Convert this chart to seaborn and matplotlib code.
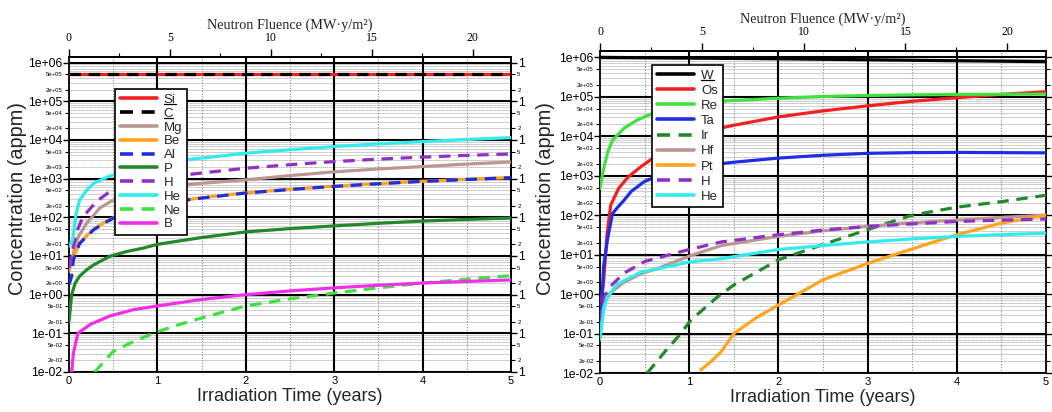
import numpy as np
import pandas as pd
import matplotlib
matplotlib.use("Agg")
import matplotlib.pyplot as plt
from matplotlib.ticker import FixedLocator, FuncFormatter, NullFormatter
from matplotlib.lines import Line2D
import seaborn as sns

# ---------------------------------------------------------------------------
# Transmutation products (appm) versus irradiation time (years)
# ---------------------------------------------------------------------------
FLUENCE_PER_YEAR = 4.38  # MW·y/m² per full-power year

# --- SiC (left panel) ---
t_si = [0, 1, 2, 3, 4, 5]
si = [5.0e5, 5.0e5, 5.0e5, 5.0e5, 5.0e5, 5.0e5]
t_c = [0, 1, 2, 3, 4, 5]
c = [5.0e5, 5.0e5, 5.0e5, 5.0e5, 5.0e5, 5.0e5]
t_mg = [0, 0.05, 0.1, 0.2, 0.35, 0.5, 0.75, 1.0, 1.33, 1.5, 2, 2.5, 3, 3.5, 4, 4.5, 5]
mg = [4, 12, 30, 71, 175, 280, 400, 520, 690, 760, 930, 1200, 1500, 1780, 2050, 2380, 2700]
t_be = [0, 0.03, 0.05, 0.12, 0.28, 0.43, 0.54, 0.75, 1, 1.33, 1.5, 2, 2.5, 3, 3.5, 4, 4.5, 5]
be = [5, 7, 9, 22, 50, 80, 108, 150, 205, 285, 320, 430, 530, 640, 745, 855, 960, 1070]
t_al = [0, 0.03, 0.05, 0.12, 0.28, 0.43, 0.54, 0.75, 1, 1.33, 1.5, 2, 2.5, 3, 3.5, 4, 4.5, 5]
al = [1.8, 3, 8, 21, 48, 78, 105, 145, 200, 280, 315, 425, 525, 630, 740, 850, 950, 1060]
t_p = [0, 0.03, 0.07, 0.12, 0.2, 0.28, 0.46, 0.65, 0.84, 1, 1.37, 1.5, 2, 2.5, 3, 3.5, 4, 4.5, 5]
p = [0.2, 1.0, 2.0, 3.0, 4.4, 5.9, 9.8, 13, 16, 20, 27, 30, 42, 51, 60, 70, 80, 88, 96]
t_h_sic = [0, 0.05, 0.1, 0.16, 0.31, 0.44, 0.75, 1.0, 1.33, 1.5, 2, 2.5, 3, 3.5, 4, 4.5, 5]
h_sic = [5, 18, 50, 105, 255, 425, 750, 1000, 1260, 1400, 1860, 2300, 2760, 3200, 3600, 4000, 4360]
t_he_sic = [0, 0.04, 0.08, 0.12, 0.2, 0.28, 0.46, 0.75, 1.0, 1.33, 1.5, 2, 2.5, 3, 3.5, 4, 4.5, 5]
he_sic = [18, 26, 120, 280, 500, 760, 1170, 1800, 2400, 3100, 3400, 4560, 5600, 6750, 7900, 9100, 10300, 11500]
t_ne = [0.29, 0.5, 0.75, 1, 1.25, 1.5, 2, 2.5, 3, 3.5, 4, 4.5, 5]
ne = [0.01, 0.034, 0.065, 0.11, 0.17, 0.25, 0.51, 0.78, 1.1, 1.5, 2.0, 2.5, 3.1]
t_b = [0.03, 0.05, 0.1, 0.24, 0.46, 0.73, 1, 1.5, 2, 2.5, 3, 3.5, 4, 4.5, 5]
b = [0.01, 0.031, 0.10, 0.17, 0.28, 0.41, 0.51, 0.75, 1.0, 1.25, 1.5, 1.75, 2.0, 2.2, 2.4]

# --- W (right panel) ---
t_w = [0, 1, 2, 3, 4, 5]
w = [1.0e6, 9.6e5, 9.2e5, 8.7e5, 8.2e5, 7.8e5]
t_os = [0, 0.04, 0.08, 0.12, 0.21, 0.32, 0.46, 0.59, 0.8, 1, 1.34, 1.5, 2, 2.5, 3, 3.5, 4, 4.5, 5]
os_ = [0.4, 2, 35, 180, 480, 950, 1700, 2760, 4500, 7000, 16000, 19000, 31000, 44000, 59000, 77000,
       95000, 115000, 135000]
t_re = [0, 0.04, 0.087, 0.14, 0.27, 0.42, 0.59, 0.8, 1, 1.34, 1.5, 2, 2.5, 3, 3.5, 4, 4.5, 5]
re = [480, 1500, 4000, 7900, 16000, 26000, 38000, 50000, 60000, 76000, 81000, 92000, 102000, 108000,
      112000, 115000, 116000, 117000]
t_ta = [0, 0.02, 0.04, 0.086, 0.14, 0.2, 0.27, 0.35, 0.5, 0.59, 0.8, 1, 1.34, 1.5, 2, 2.5, 3, 3.5, 4,
        4.5, 5]
ta = [0.1, 0.5, 5, 26, 110, 160, 240, 400, 720, 870, 1250, 1550, 2000, 2200, 2800, 3300, 3700, 3850,
      3900, 3850, 3800]
t_ir = [0.53, 0.75, 0.87, 1.02, 1.32, 1.5, 2, 2.5, 3, 3.5, 4, 4.5, 5]
ir = [0.01, 0.04, 0.08, 0.22, 0.86, 1.7, 7.4, 18, 43, 100, 160, 220, 320]
t_hf = [0, 0.05, 0.12, 0.27, 0.46, 0.65, 1.02, 1.36, 2, 2.5, 3, 3.5, 4, 4.5, 5]
hf = [0.15, 0.6, 1.1, 2.0, 3.3, 4.5, 9.5, 17, 29, 40, 52, 64, 75, 88, 100]
t_pt = [1.13, 1.25, 1.36, 1.5, 1.75, 2, 2.25, 2.5, 3, 3.5, 4, 4.5, 5]
pt = [0.012, 0.02, 0.035, 0.1, 0.25, 0.53, 1.1, 2.3, 6, 14, 32, 63, 100]
t_h_w = [0, 0.04, 0.12, 0.27, 0.5, 0.84, 1, 1.36, 2, 2.5, 3, 3.5, 4, 4.5, 5]
h_w = [0.2, 0.8, 1.6, 3.4, 6.7, 10.8, 13.5, 21, 32, 42, 52, 60, 69, 75, 80]
t_he_w = [0, 0.04, 0.08, 0.12, 0.18, 0.27, 0.46, 0.84, 1, 1.36, 2, 2.5, 3, 3.5, 4, 4.5, 5]
he_w = [0.07, 0.39, 0.85, 1.05, 1.7, 2.2, 3.6, 5.4, 6.5, 7.9, 13.5, 17, 21, 25, 29, 32, 35]

# axis tick values
year_ticks = [0, 1, 2, 3, 4, 5]
fluence_ticks = [0, 5, 10, 15, 20]
fluence_minor = [2.5, 7.5, 12.5, 17.5]
decades = [1e-2, 1e-1, 1e0, 1e1, 1e2, 1e3, 1e4, 1e5, 1e6]

sic_series = {
    "Si": (t_si, si), "C": (t_c, c), "Mg": (t_mg, mg), "Be": (t_be, be), "Al": (t_al, al),
    "P": (t_p, p), "H": (t_h_sic, h_sic), "He": (t_he_sic, he_sic), "Ne": (t_ne, ne), "B": (t_b, b),
}
w_series = {
    "W": (t_w, w), "Os": (t_os, os_), "Re": (t_re, re), "Ta": (t_ta, ta), "Ir": (t_ir, ir),
    "Hf": (t_hf, hf), "Pt": (t_pt, pt), "H": (t_h_w, h_w), "He": (t_he_w, he_w),
}
base_elements = {"Si", "C", "W"}

RED, BLACK, ROSY, ORANGE = "#f22020", "#000000", "#bc9690", "#ffa41c"
BLUE, DKGREEN, PURPLE = "#1f2ee6", "#22882a", "#9030c8"
CYAN, LIME, MAGENTA = "#30ecec", "#40e040", "#f030e8"
SOLID, DASH = "", (3.6, 2.4)

sic_colors = {"Si": RED, "C": BLACK, "Mg": ROSY, "Be": ORANGE, "Al": BLUE, "P": DKGREEN,
              "H": PURPLE, "He": CYAN, "Ne": LIME, "B": MAGENTA}
sic_dashes = {"Si": SOLID, "C": DASH, "Mg": SOLID, "Be": SOLID, "Al": DASH, "P": SOLID,
              "H": DASH, "He": SOLID, "Ne": DASH, "B": SOLID}
w_colors = {"W": BLACK, "Os": RED, "Re": LIME, "Ta": BLUE, "Ir": DKGREEN, "Hf": ROSY,
            "Pt": ORANGE, "H": PURPLE, "He": CYAN}
w_dashes = {"W": SOLID, "Os": SOLID, "Re": SOLID, "Ta": SOLID, "Ir": DASH, "Hf": SOLID,
            "Pt": SOLID, "H": DASH, "He": SOLID}

sns.set_theme(style="ticks")
plt.rcParams["font.family"] = ["Liberation Sans", "DejaVu Sans"]
plt.rcParams["axes.linewidth"] = 1.3
plt.rcParams["axes.edgecolor"] = "black"
plt.rcParams["xtick.color"] = "black"
plt.rcParams["ytick.color"] = "black"

W_PX, H_PX = 1052, 412
fig = plt.figure(figsize=(W_PX / 100, H_PX / 100), dpi=100)
fig.patch.set_facecolor("white")


def px_axes(x0, x1, ytop, ybot):
    return fig.add_axes([x0 / W_PX, 1 - ybot / H_PX, (x1 - x0) / W_PX, (ybot - ytop) / H_PX])


def long_frame(series):
    parts = [pd.DataFrame({"time": t, "conc": v, "element": k}) for k, (t, v) in series.items()]
    return pd.concat(parts, ignore_index=True)


def sci(v, pos=None):
    return f"{v:.0e}"


def lead_char(v, pos=None):
    # only the leading digit of the right-hand labels shows next to the other panel
    return f"{v:.0e}"[0]


def minor_values():
    return [m * d for d in decades[:-1] for m in (2, 5)]


def draw_panel(ax, series, colors, dashes, ytop, legend_anchor, spacing, right_labels):
    order = list(series.keys())
    df = long_frame(series)
    sns.lineplot(data=df, x="time", y="conc", hue="element", style="element",
                 hue_order=order, style_order=order, palette=colors, dashes=dashes,
                 estimator=None, sort=False, lw=2.3, ax=ax, legend=True, zorder=3)
    ax.set_yscale("log")
    ax.set_xlim(0, 5)
    ax.set_ylim(1e-2, ytop)

    # background grid: dense dotted minor lines, black decade / year lines
    for d in decades[:-1]:
        for k in range(2, 10):
            ax.axhline(k * d, color="#7a7a7a", lw=0.6, ls=(0, (1, 1.4)), zorder=1)
    for d in decades:
        ax.axhline(d, color="black", lw=1.5, zorder=1.5)
    for xv in np.arange(0.5, 5.0, 1.0):
        ax.axvline(xv, color="#8a8a8a", lw=0.8, ls=(0, (1, 1.5)), zorder=1)
    for xv in year_ticks[1:-1]:
        ax.axvline(xv, color="black", lw=1.5, zorder=1.5)

    # y axis: decades plus 2e / 5e labels in small print
    ax.yaxis.set_major_locator(FixedLocator(decades))
    ax.yaxis.set_minor_locator(FixedLocator(minor_values()))
    ax.yaxis.set_major_formatter(FuncFormatter(sci))
    ax.yaxis.set_minor_formatter(FuncFormatter(sci))
    ax.tick_params(axis="y", which="major", direction="out", length=4, width=1.0,
                   labelsize=8.8, pad=1, left=True, right=not right_labels)
    ax.tick_params(axis="y", which="minor", direction="out", length=3, width=0.8,
                   labelsize=4.3, pad=1.5, left=True, right=not right_labels)
    if right_labels:
        sy = ax.secondary_yaxis("right")
        sy.yaxis.set_major_locator(FixedLocator(decades))
        sy.yaxis.set_minor_locator(FixedLocator(minor_values()))
        sy.yaxis.set_major_formatter(FuncFormatter(lead_char))
        sy.yaxis.set_minor_formatter(FuncFormatter(lead_char))
        sy.tick_params(which="major", direction="out", length=4, width=1.0, labelsize=8.8, pad=1)
        sy.tick_params(which="minor", direction="out", length=3, width=0.8, labelsize=4.3, pad=1.5)

    # bottom: irradiation time
    ax.xaxis.set_major_locator(FixedLocator(year_ticks))
    ax.xaxis.set_major_formatter(FuncFormatter(lambda v, pos: f"{v:.0f}"))
    ax.tick_params(axis="x", which="major", direction="in", length=0, labelsize=8, pad=3)
    ax.set_xlabel("Irradiation Time (years)", fontsize=13, labelpad=1)
    ax.set_ylabel("Concentration (appm)", fontsize=14.3)

    # top: neutron fluence
    sec = ax.secondary_xaxis("top", functions=(lambda t: t * FLUENCE_PER_YEAR,
                                               lambda f: f / FLUENCE_PER_YEAR))
    sec.xaxis.set_major_locator(FixedLocator(fluence_ticks))
    sec.xaxis.set_minor_locator(FixedLocator(fluence_minor))
    sec.xaxis.set_minor_formatter(NullFormatter())
    sec.tick_params(which="major", direction="out", length=6, width=1.0, labelsize=8.5, pad=3,
                    labelfontfamily="Liberation Serif")
    sec.tick_params(which="minor", direction="out", length=3, width=0.8)
    sec.set_xlabel("Neutron Fluence (MW·y/m²)", fontsize=10.3, fontfamily="Liberation Serif",
                   labelpad=3)

    handles, labels = ax.get_legend_handles_labels()
    for h in handles:
        h.set_linewidth(2.6)
    leg = ax.legend(handles, labels, loc="upper left", bbox_to_anchor=legend_anchor,
                    borderaxespad=0, frameon=True, fancybox=False, edgecolor="black",
                    framealpha=1, fontsize=9.5, handlelength=2.8, handletextpad=0.55,
                    labelspacing=spacing, borderpad=0.35)
    leg.get_frame().set_linewidth(1.2)
    leg.set_zorder(6)
    return leg


ax_l = px_axes(69, 511, 57, 372)
ax_r = px_axes(600, 1046, 51, 373)

leg_l = draw_panel(ax_l, sic_series, sic_colors, sic_dashes, 1.4e6, (0.104, 0.898), 0.12, True)
leg_r = draw_panel(ax_r, w_series, w_colors, w_dashes, 1.45e6, (0.117, 0.957), 0.22, False)
ax_l.yaxis.set_label_coords(-0.094, 0.552)
ax_r.yaxis.set_label_coords(-0.102, 0.543)

# underline the host elements in both legends
fig.canvas.draw()
renderer = fig.canvas.get_renderer()
for leg in (leg_l, leg_r):
    for txt in leg.get_texts():
        if txt.get_text() in base_elements:
            bb = txt.get_window_extent(renderer)
            yline = bb.y0 + 1.5
            fig.add_artist(Line2D([bb.x0 / W_PX, bb.x1 / W_PX], [yline / H_PX, yline / H_PX],
                                  transform=fig.transFigure, color="black", lw=0.9, zorder=8))

fig.savefig("out.png", dpi=100, facecolor="white")
